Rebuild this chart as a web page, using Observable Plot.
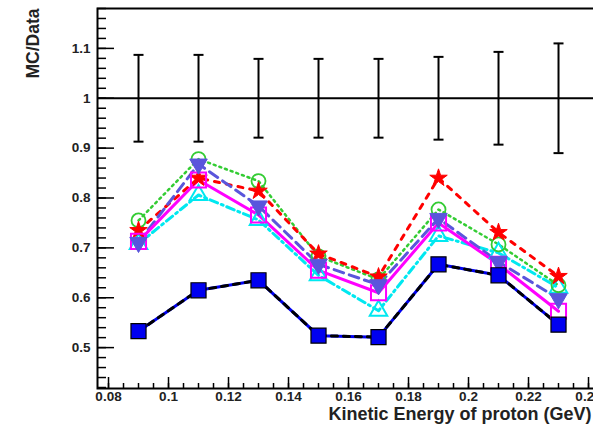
<!DOCTYPE html>
<html>
<head>
<meta charset="utf-8">
<script src="https://cdn.jsdelivr.net/npm/d3@7"></script>
<script src="https://cdn.jsdelivr.net/npm/@observablehq/plot@0.6"></script>
<style>
  html, body { margin: 0; padding: 0; background: #fff; overflow: hidden; width: 593px; height: 432px; }
  #chart { width: 606px; }
  #chart svg { display: block; max-width: none !important; }
</style>
</head>
<body>
<div id="chart"></div>
<script>
// ---- data ----
const energy = [0.09, 0.11, 0.13, 0.15, 0.17, 0.19, 0.21, 0.23];
const dataErr = [0.087, 0.087, 0.079, 0.079, 0.079, 0.083, 0.093, 0.110];
const blueSquares = [0.533, 0.615, 0.635, 0.524, 0.521, 0.667, 0.645, 0.546];
const magentaSquares = [0.713, 0.836, 0.766, 0.655, 0.610, 0.750, 0.667, 0.573];
const slateTriangles = [0.711, 0.868, 0.784, 0.667, 0.626, 0.759, 0.672, 0.598];
const greenCircles = [0.755, 0.878, 0.834, 0.683, 0.637, 0.777, 0.707, 0.625];
const redStars = [0.735, 0.840, 0.814, 0.688, 0.642, 0.840, 0.731, 0.643];
const cyanTriangles = [0.708, 0.806, 0.756, 0.645, 0.574, 0.724, 0.690, 0.620];

const xTicks = [0.08, 0.10, 0.12, 0.14, 0.16, 0.18, 0.20, 0.22, 0.24];
const xTickLabels = ["0.08", "0.1", "0.12", "0.14", "0.16", "0.18", "0.2", "0.22", "0.24"];
const yTicks = [0.5, 0.6, 0.7, 0.8, 0.9, 1.0, 1.1];
const yTickLabels = ["0.5", "0.6", "0.7", "0.8", "0.9", "1", "1.1"];
const xMinorTicks = d3.range(0, 33).map(i => +(0.08 + i * 0.005).toFixed(4));
const yMinorTicks = d3.range(0, 39).map(i => +(0.42 + i * 0.02).toFixed(3));

const xLabel = "Kinetic Energy of proton (GeV)";
const yLabel = "MC/Data";

// ---- tables ----
const rows = (vals) => energy.map((e, i) => ({x: e, y: vals[i]}));
const errRows = energy.map((e, i) => ({x: e, lo: 1 - dataErr[i], hi: 1 + dataErr[i]}));

const capSymbol = {
  draw(ctx, size) {
    const w = Math.sqrt(size / Math.PI);
    ctx.moveTo(-w, 0);
    ctx.lineTo(w, 0);
  }
};

const fmt = (ticks, labels) => (d) => {
  const i = ticks.findIndex(t => Math.abs(t - d) < 1e-9);
  return i >= 0 ? labels[i] : "";
};

const C = {
  blue: "#0000f0",
  magenta: "#ff00ff",
  slate: "#5a55dc",
  green: "#33cc33",
  red: "#ff0000",
  cyan: "#00e8f0"
};

const chart = Plot.plot({
  width: 606,
  height: 432,
  marginLeft: 97,
  marginRight: 5,
  marginTop: 8,
  marginBottom: 44,
  style: {fontFamily: "'Liberation Sans', Arial, sans-serif", fontWeight: "bold", background: "white", maxWidth: "none"},
  x: {domain: [0.07633, 0.24433]},
  y: {domain: [0.418, 1.18]},
  marks: [
    // axis labels (text only)
    Plot.axisX({ticks: xTicks, tickFormat: fmt(xTicks, xTickLabels), tickSize: 0, tickPadding: 3, fontSize: 13.5, fill: "#222", label: null}),
    Plot.axisY({ticks: yTicks, tickFormat: fmt(yTicks, yTickLabels), tickSize: 0, tickPadding: 7, fontSize: 13.5, fill: "#222", label: null}),
    // inward ticks
    Plot.axisX({ticks: xTicks, tickSize: 11, dy: -11, text: null, label: null, strokeWidth: 1.5}),
    Plot.axisX({ticks: xMinorTicks, tickSize: 5, dy: -5, text: null, label: null, strokeWidth: 1.5}),
    Plot.axisY({ticks: yTicks, tickSize: 17, dx: 17, text: null, label: null, strokeWidth: 1.5}),
    Plot.axisY({ticks: yMinorTicks, tickSize: 9, dx: 9, text: null, label: null, strokeWidth: 1.5}),
    // reference line and data error bars
    Plot.ruleY([1], {stroke: "black", strokeWidth: 2}),
    Plot.ruleX(errRows, {x: "x", y1: "lo", y2: "hi", stroke: "black", strokeWidth: 2}),
    Plot.dot(errRows, {x: "x", y: "lo", symbol: capSymbol, r: 5, stroke: "black", strokeWidth: 2}),
    Plot.dot(errRows, {x: "x", y: "hi", symbol: capSymbol, r: 5, stroke: "black", strokeWidth: 2}),
    // lines
    Plot.line(rows(blueSquares), {x: "x", y: "y", stroke: C.blue, strokeWidth: 3}),
    Plot.line(rows(blueSquares), {x: "x", y: "y", stroke: "black", strokeWidth: 3, strokeDasharray: "6,6"}),
    Plot.line(rows(cyanTriangles), {x: "x", y: "y", stroke: C.cyan, strokeWidth: 3, strokeDasharray: "8,4,2,4"}),
    Plot.line(rows(greenCircles), {x: "x", y: "y", stroke: C.green, strokeWidth: 2.5, strokeDasharray: "2,4"}),
    Plot.line(rows(redStars), {x: "x", y: "y", stroke: C.red, strokeWidth: 3, strokeDasharray: "5,7"}),
    Plot.line(rows(slateTriangles), {x: "x", y: "y", stroke: C.slate, strokeWidth: 3, strokeDasharray: "10,6"}),
    Plot.line(rows(magentaSquares), {x: "x", y: "y", stroke: C.magenta, strokeWidth: 3}),
    // markers
    Plot.dot(rows(cyanTriangles), {x: "x", y: "y", symbol: "triangle", r: 6.5, stroke: C.cyan, strokeWidth: 2, fill: "none"}),
    Plot.dot(rows(greenCircles), {x: "x", y: "y", symbol: "circle", r: 7, stroke: C.green, strokeWidth: 1.8, fill: "none"}),
    Plot.dot(rows(redStars), {x: "x", y: "y", symbol: "star", r: 5.5, fill: C.red, stroke: C.red, strokeWidth: 1}),
    Plot.dot(rows(magentaSquares), {x: "x", y: "y", symbol: "square", r: 8.5, stroke: C.magenta, strokeWidth: 2, fill: "none"}),
    Plot.dot(rows(slateTriangles), {x: "x", y: "y", symbol: "triangle", rotate: 180, r: 6.5, fill: C.slate, stroke: C.slate, strokeWidth: 1}),
    Plot.dot(rows(blueSquares), {x: "x", y: "y", symbol: "square", r: 8.5, fill: C.blue, stroke: "black", strokeWidth: 1.2}),
    // frame
    Plot.frame({stroke: "black", strokeWidth: 2}),
    // axis titles
    Plot.text([yLabel], {frameAnchor: "top-left", rotate: -90, textAnchor: "end", dx: -71, dy: 0, fontSize: 17.5, fontWeight: "bold", fill: "#222"}),
    Plot.text([xLabel], {frameAnchor: "bottom-right", textAnchor: "end", dx: -10, dy: 31, fontSize: 18, fontWeight: "bold", fill: "#222"})
  ]
});

document.getElementById("chart").appendChild(chart);
</script>
</body>
</html>
